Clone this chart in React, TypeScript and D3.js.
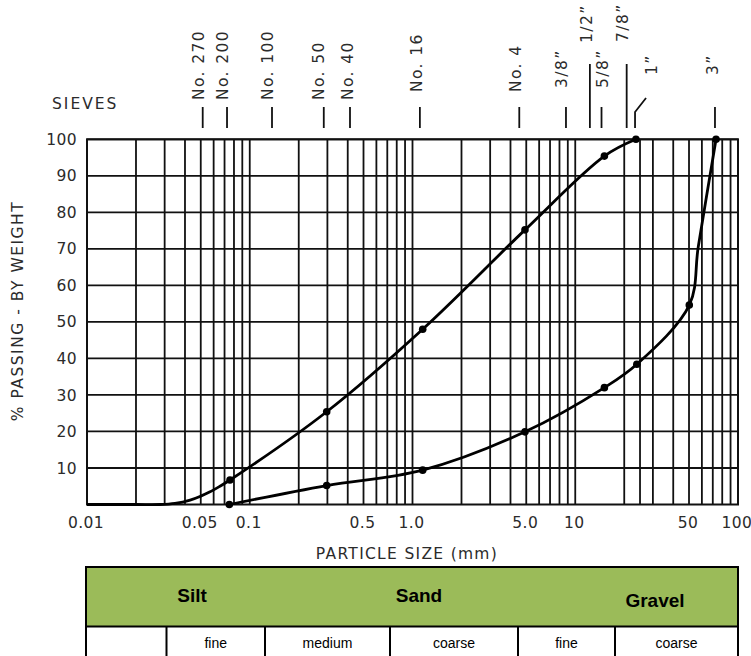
import React from "react";
import * as d3 from "d3";

// ---------- data ----------
const gridDecades = [0.01, 0.1, 1, 10];
const gridMultipliers = [1, 2, 3, 4, 5, 6, 7, 8, 9];
const extraGridValues = [25, 100];
const yTickValues = [10, 20, 30, 40, 50, 60, 70, 80, 90, 100];
const xTickValues = [0.01, 0.05, 0.1, 0.5, 1, 5, 10, 50, 100];
const xTickLabels = ["0.01", "0.05", "0.1", "0.5", "1.0", "5.0", "10", "50", "100"];

const sieveNames = ["No. 270", "No. 200", "No. 100", "No. 50", "No. 40", "No. 16", "No. 4", "3/8\u201D", "1/2\u201D", "5/8\u201D", "7/8\u201D", "1\u201D", "3\u201D"];
const sieveSizes = [0.0514, 0.0725, 0.137, 0.285, 0.413, 1.11, 4.53, 8.77, 12.3, 14.5, 20.7, 23.3, 72.2];

const fineSizes = [0.01, 0.02, 0.028, 0.0347, 0.043, 0.05, 0.0566, 0.065, 0.0756, 0.297, 1.155, 4.91, 15.1, 23.6];
const finePassing = [0, 0, 0, 0.3, 1.2, 2.3, 3.4, 4.9, 6.7, 25.4, 48, 75.2, 95.4, 100];
const fineMarked = [false, false, false, false, false, false, false, false, true, true, true, true, true, true];

const coarseSizes = [0.0749, 0.297, 1.155, 4.91, 15.1, 23.9, 50.2, 57.0, 73.3];
const coarsePassing = [0, 5.2, 9.4, 19.9, 32, 38.4, 54.6, 70.6, 100];
const coarseMarked = [true, true, true, true, true, true, true, false, true];

const soilGroups = ["Silt", "Sand", "Gravel"];
const soilSubgroups = ["", "fine", "medium", "coarse", "fine", "coarse"];

// ---------- layout (styling only) ----------
const W = 751;
const H = 656;
const PL = 87, PR = 738, PT = 139.3, PB = 504.5;
// per-sieve label layout: [bottom y of rotated text, baseline offset from tick, tick top]
const sieveLabelLayout = [
  [100, 1, 107], [100, 1, 107], [100, 1, 107], [100, 0, 107], [100, 3, 107],
  [92, 2, 107], [92, 2, 107], [88, 1, 107], [43, 2, 64], [88, 6, 107],
  [42, 1, 64], [75, 22, 112], [75, 3, 107],
];
const groupLayout = [
  { x: 192, y: 602 },
  { x: 419, y: 602 },
  { x: 655, y: 607 },
];
const subDividers = [86, 166.5, 265, 390, 518, 615, 738];

const AXIS_FONT = "'DejaVu Sans', sans-serif";
const TABLE_FONT = "'Liberation Sans', Arial, sans-serif";
const TEXT_COLOR = "#2b2b2b";

export default function App() {
  const x = d3.scaleLog().domain([0.01, 100]).range([PL, PR]);
  const y = d3.scaleLinear().domain([0, 100]).range([PB, PT]);

  const gridX: number[] = [];
  gridDecades.forEach((d) => gridMultipliers.forEach((m) => gridX.push(d * m)));
  extraGridValues.forEach((v) => gridX.push(v));

  const curveLine = d3
    .line<[number, number]>()
    .x((d) => x(d[0]))
    .y((d) => Math.min(PB, y(d[1])))
    .curve(d3.curveCatmullRom.alpha(0.5));

  const fineData = fineSizes.map((s, i) => [s, finePassing[i]] as [number, number]);
  const coarseData = coarseSizes.map((s, i) => [s, coarsePassing[i]] as [number, number]);

  const tableTop = 567;
  const tableMid = 626.5;
  const tableBottom = 660;

  return (
    <svg
      width={W}
      height={H}
      style={{ position: "absolute", left: 0, top: 0, background: "#fff" }}
    >
      <rect x={0} y={0} width={W} height={H} fill="#fff" />

      {/* grid */}
      {gridX.map((v, i) => (
        <line key={"gx" + i} x1={x(v)} x2={x(v)} y1={PT} y2={PB} stroke="#111" strokeWidth={1.8} />
      ))}
      {yTickValues.map((v) => (
        <line key={"gy" + v} x1={PL} x2={PR} y1={y(v)} y2={y(v)} stroke="#111" strokeWidth={1.8} />
      ))}
      <rect x={PL} y={PT} width={PR - PL} height={PB - PT} fill="none" stroke="#111" strokeWidth={2} />

      {/* curves */}
      <path d={curveLine(fineData) || ""} fill="none" stroke="#000" strokeWidth={2.8} />
      <path d={curveLine(coarseData) || ""} fill="none" stroke="#000" strokeWidth={2.8} />
      {fineData.map((d, i) =>
        fineMarked[i] ? <circle key={"fm" + i} cx={x(d[0])} cy={y(d[1])} r={3.8} fill="#000" /> : null
      )}
      {coarseData.map((d, i) =>
        coarseMarked[i] ? <circle key={"cm" + i} cx={x(d[0])} cy={y(d[1])} r={3.8} fill="#000" /> : null
      )}

      {/* y tick labels */}
      {yTickValues.map((v) => (
        <text
          key={"yl" + v}
          x={77}
          y={y(v)}
          dy="0.36em"
          textAnchor="end"
          fontFamily={AXIS_FONT}
          fontSize={15.5}
          letterSpacing={0.4}
          fill={TEXT_COLOR}
        >
          {v}
        </text>
      ))}

      {/* x tick labels */}
      {xTickValues.map((v, i) => (
        <text
          key={"xl" + i}
          x={x(v) - 1}
          y={528}
          textAnchor="middle"
          fontFamily={AXIS_FONT}
          fontSize={15.5}
          letterSpacing={0.4}
          fill={TEXT_COLOR}
        >
          {xTickLabels[i]}
        </text>
      ))}

      {/* axis titles */}
      <text
        x={407}
        y={559}
        textAnchor="middle"
        fontFamily={AXIS_FONT}
        fontSize={15.5}
        letterSpacing={1.3}
        fill={TEXT_COLOR}
      >
        PARTICLE SIZE (mm)
      </text>
      <text
        transform={`translate(23, 311) rotate(-90)`}
        textAnchor="middle"
        fontFamily={AXIS_FONT}
        fontSize={15.5}
        letterSpacing={1.5}
        fill={TEXT_COLOR}
      >
        % PASSING - BY WEIGHT
      </text>

      {/* sieves */}
      <text x={52} y={109} fontFamily={AXIS_FONT} fontSize={15.5} letterSpacing={2} fill={TEXT_COLOR}>
        SIEVES
      </text>
      {sieveSizes.map((s, i) => {
        const sx = x(s);
        const [bottom, off, tickTop] = sieveLabelLayout[i];
        const isBent = sieveNames[i] === "1\u201D";
        return (
          <g key={"sv" + i}>
            {isBent ? (
              <polyline
                points={`${sx},128 ${sx},${tickTop} ${sx + 11},98`}
                fill="none"
                stroke="#111"
                strokeWidth={1.8}
              />
            ) : (
              <line x1={sx} x2={sx} y1={tickTop} y2={128} stroke="#111" strokeWidth={1.8} />
            )}
            <text
              transform={`translate(${sx + off}, ${bottom}) rotate(-90)`}
              textAnchor="start"
              fontFamily={AXIS_FONT}
              fontSize={15.5}
              letterSpacing={1.4}
              fill={TEXT_COLOR}
            >
              {sieveNames[i]}
            </text>
          </g>
        );
      })}

      {/* soil classification table */}
      <rect x={86} y={tableTop} width={738 - 86} height={tableMid - tableTop} fill="#9BBB59" />
      <rect x={86} y={tableMid} width={738 - 86} height={tableBottom - tableMid} fill="#fff" />
      <rect
        x={86}
        y={tableTop}
        width={738 - 86}
        height={tableBottom - tableTop}
        fill="none"
        stroke="#000"
        strokeWidth={2}
      />
      <line x1={86} x2={738} y1={tableMid} y2={tableMid} stroke="#000" strokeWidth={2} />
      {subDividers.slice(1, -1).map((dx, i) => (
        <line key={"sd" + i} x1={dx} x2={dx} y1={tableMid} y2={tableBottom} stroke="#000" strokeWidth={2} />
      ))}
      {soilGroups.map((g, i) => (
        <text
          key={"sg" + i}
          x={groupLayout[i].x}
          y={groupLayout[i].y}
          textAnchor="middle"
          fontFamily={TABLE_FONT}
          fontWeight="bold"
          fontSize={19}
          fill="#000"
        >
          {g}
        </text>
      ))}
      {soilSubgroups.map((s, i) => (
        <text
          key={"ss" + i}
          x={(subDividers[i] + subDividers[i + 1]) / 2}
          y={648}
          textAnchor="middle"
          fontFamily={TABLE_FONT}
          fontSize={14}
          fill="#000"
        >
          {s}
        </text>
      ))}
    </svg>
  );
}
